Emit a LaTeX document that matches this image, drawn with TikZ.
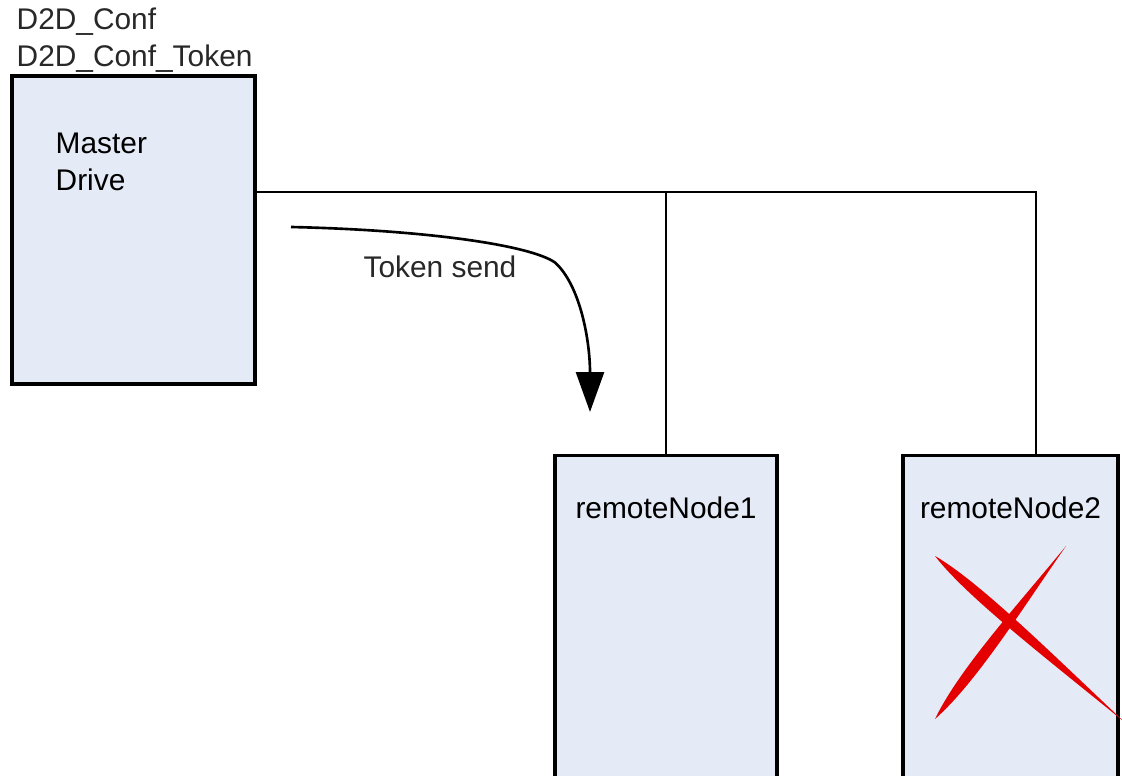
\documentclass[tikz,border=0pt]{standalone}
\usepackage{fontspec}
\setmainfont{Liberation Sans}
\usetikzlibrary{arrows.meta,positioning,calc}
\definecolor{cBox}{RGB}{228,235,246}
\definecolor{cText}{RGB}{40,40,40}
\definecolor{cCross}{RGB}{228,0,0}

\begin{document}
\begin{tikzpicture}[
  >=Triangle,
  box/.style={
    draw=black, fill=cBox, line width=1.9pt,
    inner sep=0pt
  },
  txt/.style={
    font=\fontsize{17}{21}\selectfont, text=cText, inner sep=0pt
  },
  bus/.style={draw=black, line width=1.6pt},
  token/.style={draw=black, line width=1.5pt,
    -{Triangle[length=0.8cm,width=0.56cm]}},
  stroke/.style={fill=cCross}
]
\useasboundingbox (0,0) rectangle (22.44,-15.5);
\clip (0,0) rectangle (22.44,-15.5);

% Boxes
\node[box, minimum width=4.86cm, minimum height=6.16cm] (master) at (2.67,-4.6) {};
\node[box, anchor=north, minimum width=4.44cm, minimum height=7.4cm] (rn1) at (13.32,-9.08) {};
\node[box, anchor=north, minimum width=4.3cm, minimum height=7.4cm] (rn2) at (20.21,-9.08) {};

% Labels
\node[txt, anchor=base west] (conftok) at ([xshift=0.12cm,yshift=0.16cm]master.north west) {D2D\_Conf\_Token};
\node[txt, anchor=base west] (conf) at ([yshift=0.74cm]conftok.base west) {D2D\_Conf};
\node[txt, anchor=north west, align=left, text=black] (mlbl) at ([xshift=0.9cm,yshift=-1.16cm]master.north west) {Master\\Drive};
\node[txt, text=black] (rn1lbl) at ([yshift=-1.08cm]rn1.north) {remoteNode1};
\node[txt, text=black] (rn2lbl) at ([yshift=-1.08cm]rn2.north) {remoteNode2};

% Bus
\coordinate (busL) at ([yshift=0.76cm]master.east);
\coordinate (busR) at ([xshift=0.51cm]rn2.north);
\draw[bus] (busL) -| (busR);
\draw[bus] (rn1.north) -- (rn1.north |- busL);

% Token send
\coordinate (tokA) at (5.82,-4.54);
\coordinate (tokB) at (11.1,-5.25);
\coordinate (tokC) at (11.8,-8.24);
\draw[token] (tokA) .. controls (8.5,-4.6) and (10.6,-4.9) .. (tokB)
  .. controls (11.6,-5.7) and (11.8,-6.8) .. (tokC);
\node[txt] (toklbl) at (8.8,-5.34) {Token send};

% Cross
\coordinate (xA1) at (18.7,-11.12);
\coordinate (xA2) at (22.5,-14.45);
\coordinate (xB1) at (21.32,-10.92);
\coordinate (xB2) at (18.7,-14.38);
\fill[stroke] (xA1)
  .. controls ($(xA1)!0.2!(xA2)!0.2cm!90:(xA2)$) and ($(xA1)!0.6!(xA2)!0.07cm!90:(xA2)$) .. (xA2)
  .. controls ($(xA1)!0.6!(xA2)!-0.07cm!90:(xA2)$) and ($(xA1)!0.2!(xA2)!-0.2cm!90:(xA2)$) .. (xA1);
\fill[stroke] (xB1)
  .. controls ($(xB1)!0.35!(xB2)!0.06cm!90:(xB2)$) and ($(xB1)!0.75!(xB2)!0.22cm!90:(xB2)$) .. (xB2)
  .. controls ($(xB1)!0.75!(xB2)!-0.22cm!90:(xB2)$) and ($(xB1)!0.35!(xB2)!-0.06cm!90:(xB2)$) .. (xB1);

\end{tikzpicture}
\end{document}
